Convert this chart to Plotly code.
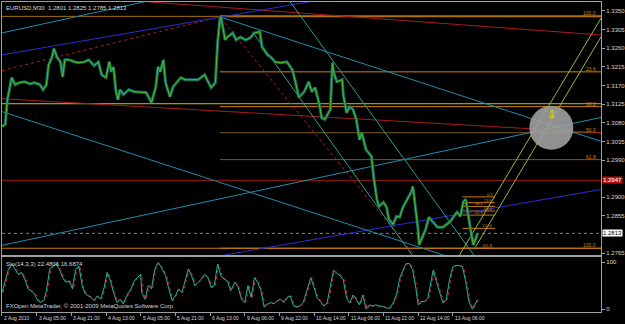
import plotly.graph_objects as go

# ---------------- data ----------------
price_bar = [0, 3, 5, 9, 12, 16, 21, 26, 30, 35, 38, 41, 43, 46, 48, 51, 54, 56, 58, 62, 67, 71, 76, 80, 85, 89, 92, 96, 99, 101, 103, 105, 107, 109, 112,
             117, 122, 128, 133, 138, 142, 144, 146, 149, 151, 155, 158, 165, 169, 175, 181, 187, 193, 197, 199, 201, 202, 206, 208, 213, 216, 220,
             225, 229, 233, 238, 240, 245, 248, 252, 257, 263, 268, 271, 274, 279, 283, 286, 289, 293, 295, 298, 302, 303, 305, 306, 309, 314, 315, 318, 321, 324, 327, 330, 332,
             336, 341, 343, 346, 348, 352, 355, 357, 361, 364, 367, 370, 375, 378, 379, 380, 382, 384, 385, 388, 391, 394, 398, 402, 407, 411, 414, 417, 420, 423, 426, 428, 430, 432, 435, 439]
price_close = [1.3071, 1.3076, 1.3136, 1.3189, 1.3172, 1.3177, 1.3179, 1.3174, 1.3177, 1.3172, 1.3160, 1.3172, 1.3220, 1.3237, 1.3259, 1.3237, 1.3227, 1.3191, 1.3232, 1.3232, 1.3227, 1.3225, 1.3227, 1.3232, 1.3218, 1.3227, 1.3196, 1.3189, 1.3227, 1.3203, 1.3215, 1.3160, 1.3136, 1.3160, 1.3148,
               1.3160, 1.3155, 1.3153, 1.3153, 1.3129, 1.3167, 1.3215, 1.3203, 1.3232, 1.3177, 1.3143, 1.3167, 1.3189, 1.3184, 1.3184, 1.3184, 1.3196, 1.3165, 1.3177, 1.3273, 1.3328, 1.3336, 1.3280, 1.3287, 1.3297, 1.3280, 1.3287,
               1.3280, 1.3285, 1.3297, 1.3300, 1.3263, 1.3244, 1.3239, 1.3227, 1.3225, 1.3227, 1.3208, 1.3177, 1.3141, 1.3155, 1.3179, 1.3155, 1.3165, 1.3124, 1.3092, 1.3088, 1.3107, 1.3112, 1.3225, 1.3203, 1.3179, 1.3184, 1.3148, 1.3104, 1.3119, 1.3112, 1.3088, 1.3039, 1.3056,
               1.3015, 1.2999, 1.2950, 1.2895, 1.2878, 1.2888, 1.2876, 1.2847, 1.2835, 1.2854, 1.2852, 1.2876, 1.2902, 1.2914, 1.2926, 1.2912, 1.2866, 1.2823, 1.2785, 1.2806, 1.2823, 1.2852, 1.2840, 1.2828, 1.2828, 1.2835, 1.2842, 1.2854, 1.2864, 1.2854, 1.2890, 1.2895, 1.2859, 1.2830, 1.2785, 1.2813]

stoch_bar = [0, 1, 6, 9, 12, 15, 18, 21, 24, 27, 30, 33, 36, 39, 41, 44, 47, 50, 53, 56, 59, 62, 65, 68, 71, 74, 77, 82, 85, 88, 91, 94, 97, 100, 103, 106, 109, 112, 115, 119,
             122, 125, 128, 129, 132, 135, 138, 141, 144, 147, 151, 154, 157, 160, 163, 166, 169, 172, 175, 178, 181, 184, 187, 190, 193, 196, 199, 202, 205, 208, 211, 215, 218,
             221, 224, 227, 230, 233, 236, 239, 242, 245, 248, 251, 254, 257, 260, 263, 266, 269, 272, 275, 278, 281, 285, 288,
             291, 294, 297, 300, 303, 306, 309, 312, 315, 318, 321, 324, 327, 330, 333, 336, 339, 342, 345, 348, 351, 355, 358, 361, 364, 367, 370, 373, 376, 379, 382, 384,
             387, 390, 393, 396, 398, 401, 404, 407, 410, 413, 416, 419, 422, 425, 428, 431, 434, 437, 439]
stoch_main = [35, 43, 85, 96, 85, 74, 78, 64, 43, 39, 32, 18, 14, 21, 39, 85, 92, 96, 85, 67, 57, 60, 43, 85, 92, 50, 32, 25, 18, 28, 21, 43, 78, 60, 35, 14, 21, 11, 28, 43,
              60, 67, 74, 35, 21, 50, 43, 85, 99, 89, 71, 43, 18, 28, 43, 35, 60, 85, 71, 50, 57, 64, 74, 67, 46, 50, 96, 71, 64, 60, 39, 57, 46,
              21, 14, 50, 25, 67, 57, 39, 4, 11, 14, 11, 18, 21, 14, 25, 28, 7, 4, 7, 14, 35, 67, 46,
              23, 16, 6, 13, 51, 83, 76, 72, 62, 23, 13, 30, 20, 9, 30, 0, 9, 6, 9, 6, 6, 2, 2, 13, 30, 65, 83, 97, 97, 83, 44, 9,
              16, 16, 23, 58, 83, 58, 37, 13, 20, 62, 90, 93, 93, 90, 58, 16, 0, 13, 20]

# trend lines: (bar0, price0, bar1, price1)
red_solid = [(0, 1.3138, 553, 1.3056), (135, 1.3372, 553, 1.3292)]
red_dotted = [(0, 1.3206, 201, 1.3336), (202, 1.3333, 382, 1.2755)]
blue_lines = [(0, 1.3244, 283, 1.3372), (193, 1.2755, 553, 1.2919)]
teal_lines = [(0, 1.3297, 131, 1.3372), (0, 1.3107, 414, 1.2755), (0, 1.2784, 553, 1.3093), (201, 1.3336, 553, 1.3035)]
channel_lines = [(266, 1.3372, 437, 1.2755), (231, 1.3300, 380, 1.2755)]
green_lines = [(421, 1.2755, 553, 1.3333), (437, 1.2780, 553, 1.3288)]

# horizontal levels
h_top = 1.3337
h_yellow = 1.3126
h_red = 1.2941
h_current = 1.2813
h_bottom = 1.2777

fib_big_start = 201
fib_big_levels = [1.3337, 1.3203, 1.3119, 1.3056, 1.2991, 1.2777]
fib_big_labels = ["100.0", "23.6", "38.2", "50.0", "61.8", "100.0"]
fib_small_range = (425, 455)
fib_small_levels = [1.2901, 1.2887, 1.2878, 1.2867, 1.2857, 1.2825, 1.2777]
fib_small_labels = ["0.0", "23.6", "38.2", "50.0", "61.8", "100.0", "161.8"]

circle_center = (507, 1.3068)
arrow_pos = (508, 1.3099)

price_ticks = [1.3350, 1.3305, 1.3260, 1.3215, 1.3170, 1.3125, 1.3080, 1.3035, 1.2990, 1.2900, 1.2855, 1.2765]
time_tick_bar = [0, 32, 64, 96, 128, 160, 192, 224, 256, 288, 320, 352, 384, 416]
time_tick_text = ["2 Aug 2010", "3 Aug 05:00", "3 Aug 21:00", "4 Aug 13:00", "5 Aug 05:00", "5 Aug 21:00", "6 Aug 13:00",
                  "9 Aug 06:00", "9 Aug 22:00", "10 Aug 14:00", "11 Aug 06:00", "11 Aug 22:00", "12 Aug 14:00", "13 Aug 06:00"]

XMAX = 553
W, H = 625, 324
FONT = "Liberation Sans Narrow, Liberation Sans, Arial"
TXT = "#d8d8d8"
FRAME = "#a0a0a0"

fig = go.Figure()

def seg(lines, color, width=1, dash="solid", xa="x", ya="y"):
    for (b0, p0, b1, p1) in lines:
        fig.add_trace(go.Scatter(x=[b0, b1], y=[p0, p1], mode="lines", xaxis=xa, yaxis=ya,
                                 line=dict(color=color, width=width, dash=dash), hoverinfo="skip"))

def hline(price, color, b0=0, b1=XMAX, width=1, dash="solid"):
    seg([(b0, price, b1, price)], color, width, dash)

# horizontal lines
hline(h_top, "#a86c10", width=1)
hline(h_yellow, "#c8c800", width=1)
hline(h_red, "#a01818", width=1)
hline(h_current, "#808080", width=1, dash="dot")
hline(h_bottom, "#c87a10", width=1)

# big fib
fib_cols = ["#b07010", "#d08018", "#d08018", "#7a5a18", "#7a5a18", "#c87a10"]
for lv, c in zip(fib_big_levels, fib_cols):
    hline(lv, c, b0=fib_big_start, width=2 if lv == fib_big_levels[0] else 1)

# small fib
for lv in fib_small_levels:
    hline(lv, "#c87a10", b0=fib_small_range[0], b1=fib_small_range[1])

# trend lines
seg(red_solid, "#a81c1c", 1)
seg(red_dotted, "#b02020", 1, "dot")
seg(blue_lines, "#2c2cd0", 1)
seg(teal_lines, "#1f8cb0", 1)
seg(channel_lines, "#2e9e8a", 1)
seg(green_lines, "#9ab83a", 1)

# price
fig.add_trace(go.Scatter(x=price_bar, y=price_close, mode="lines", line=dict(color="#166b58", width=3),
                         hoverinfo="skip"))
fig.add_trace(go.Scatter(x=price_bar, y=price_close, mode="lines", line=dict(color="#4ec02a", width=1),
                         hoverinfo="skip"))

# stochastic
fig.add_trace(go.Scatter(x=[b + 1 for b in stoch_bar], y=stoch_main, mode="lines", xaxis="x2", yaxis="y2",
                         line=dict(color="#d02020", width=1, dash="dot"), hoverinfo="skip"))
fig.add_trace(go.Scatter(x=stoch_bar, y=stoch_main, mode="lines", xaxis="x2", yaxis="y2",
                         line=dict(color="#20b2a0", width=1), hoverinfo="skip"))

dom_x = [2 / W, 607 / W]
fig.update_layout(
    width=W, height=H, margin=dict(l=0, r=0, t=0, b=0),
    paper_bgcolor="#000000", plot_bgcolor="#000000", showlegend=False, hovermode=False,
    font=dict(family=FONT, size=6, color=TXT),
    xaxis=dict(domain=dom_x, range=[0, XMAX], anchor="y", showgrid=False, zeroline=False,
               showticklabels=False, showline=True, mirror=True, linecolor=FRAME, linewidth=1),
    xaxis2=dict(domain=dom_x, range=[0, XMAX], anchor="y2", showgrid=False, zeroline=False,
                showticklabels=False, showline=True, mirror=True, linecolor=FRAME, linewidth=1,
                ticks="outside", ticklen=3, tickcolor=FRAME, tickvals=time_tick_bar),
    yaxis=dict(domain=[1 - 256 / H, 1 - 2 / H], range=[1.27602, 1.33717], side="right", anchor="x",
               showgrid=False, zeroline=False, showline=True, mirror=True, linecolor=FRAME,
               tickvals=price_ticks, ticktext=[f"{v:.4f}" for v in price_ticks], ticks="outside",
               ticklen=3, tickcolor=FRAME, tickfont=dict(size=6, color=TXT, family=FONT)),
    yaxis2=dict(domain=[1 - 313 / H, 1 - 258 / H], range=[-6.4, 110.6], side="right", anchor="x2",
                showgrid=False, zeroline=False, showline=True, mirror=True, linecolor=FRAME,
                tickvals=[0, 100], ticktext=["0", "100"], ticks="outside", ticklen=3, tickcolor=FRAME,
                tickfont=dict(size=6, color=TXT, family=FONT)),
)

ann = []
# time labels
for b, t in zip(time_tick_bar, time_tick_text):
    ann.append(dict(x=b, y=1 - 314 / H, xref="x2", yref="paper", text=t, showarrow=False,
                    xanchor="left", yanchor="top", xshift=0, font=dict(size=5, color=TXT, family=FONT)))
# fib labels
for lv, lab in zip(fib_big_levels, fib_big_labels):
    ann.append(dict(x=XMAX, y=lv, xref="x", yref="y", text=lab, showarrow=False, xanchor="right",
                    yanchor="bottom", xshift=-3, yshift=-2, font=dict(size=5, color="#d08018", family=FONT)))
for i, (lv, lab) in enumerate(zip(fib_small_levels, fib_small_labels)):
    ann.append(dict(x=fib_small_range[1], y=lv, xref="x", yref="y", text=lab, showarrow=False, xanchor="right",
                    yanchor="bottom", yshift=-2, xshift=(-9 if i in (2, 4) else 0),
                    font=dict(size=4, color="#d08018", family=FONT)))
# price boxes
ann.append(dict(x=608 / W, y=h_red, xref="paper", yref="y", text="1.2947", showarrow=False, xanchor="left",
                bgcolor="#c01010", font=dict(size=6, color="#ffffff", family=FONT), borderpad=0))
ann.append(dict(x=608 / W, y=h_current, xref="paper", yref="y", text="1.2813", showarrow=False, xanchor="left",
                bgcolor="#ffffff", font=dict(size=6, color="#000000", family=FONT), borderpad=0))
# texts
ann.append(dict(x=4 / W, y=1 - 3 / H, xref="paper", yref="paper", text="EURUSD,M30  1.2801 1.2825 1.2785 1.2813",
                showarrow=False, xanchor="left", yanchor="top", font=dict(size=6, color=TXT, family=FONT)))
ann.append(dict(x=4 / W, y=1 - 260 / H, xref="paper", yref="paper", text="Sto(14,3,3) 22.4806 16.6874",
                showarrow=False, xanchor="left", yanchor="top", font=dict(size=6, color=TXT, family=FONT)))
ann.append(dict(x=4 / W, y=1 - 312 / H, xref="paper", yref="paper",
                text="FXOpen MetaTrader, © 2001-2009 MetaQuotes Software Corp.",
                showarrow=False, xanchor="left", yanchor="bottom", font=dict(size=6, color=TXT, family=FONT)))
# arrow in circle
ann.append(dict(x=arrow_pos[0], y=arrow_pos[1], xref="x", yref="y", text="⇩", showarrow=False,
                font=dict(size=12, color="#f0e000", family="DejaVu Sans")))
fig.update_layout(annotations=ann)

fig.add_shape(type="circle", xref="x", yref="y", xsizemode="pixel", ysizemode="pixel",
              xanchor=circle_center[0], yanchor=circle_center[1], x0=-22, x1=22, y0=-22, y1=22,
              fillcolor="#a0a0a0", opacity=0.9, line=dict(width=0), layer="above")

fig.write_html("out.html")
